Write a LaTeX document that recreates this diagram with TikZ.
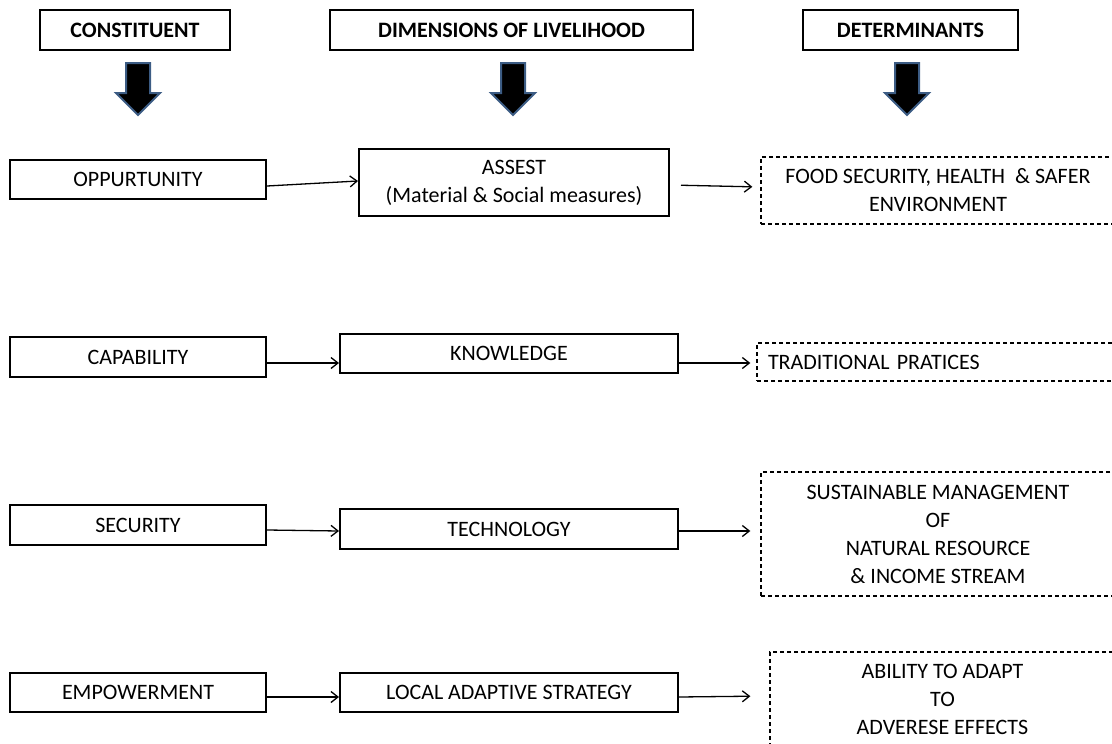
\documentclass[tikz,border=0pt]{standalone}
\usepackage{fontspec}
\setmainfont{Carlito}
\usetikzlibrary{arrows.meta}
\definecolor{arrowrim}{RGB}{60,92,132}

\begin{document}
\begin{tikzpicture}[x=1pt, y=-1pt, font=\fontsize{22}{28}\selectfont,
head_style/.style={draw=black, line width=2pt, font=\fontsize{22}{24}\selectfont\bfseries, minimum height=40pt},
box_style/.style={draw=black, line width=2pt, align=center, inner sep=0pt},
dash_style/.style={draw=black, line width=1.3pt, dash pattern=on 4pt off 3pt, align=center, inner sep=0pt},
edge_style/.style={draw=black, line width=1.3pt, -{Straight Barb[length=7pt,width=11pt]}},
block_style/.style={fill=black, draw=arrowrim, line width=2pt, line join=miter}]
\useasboundingbox (0,0) rectangle (1112,744);
\clip (0,0) rectangle (1112,744);

% headings
\node[head_style, minimum width=190pt] (conh) at (135,30) {CONSTITUENT};
\node[head_style, minimum width=363pt] (dimh) at (511.5,30) {DIMENSIONS OF LIVELIHOOD};
\node[head_style, minimum width=215pt] (deth) at (910.5,30) {DETERMINANTS};

\foreach \x in {138,513,907}
  \draw[block_style] (\x-12,63) -- (\x+12,63) -- (\x+12,93) -- (\x+22,93)
    -- (\x,115) -- (\x-22,93) -- (\x-12,93) -- cycle;

% constituents
\node[box_style, minimum width=256pt, minimum height=39pt] (opp) at (138,179.5) {OPPURTUNITY};
\node[box_style, minimum width=256pt, minimum height=40pt] (cap) at (138,357) {CAPABILITY};
\node[box_style, minimum width=256pt, minimum height=40pt] (sec) at (138,525) {SECURITY};
\node[box_style, minimum width=256pt, minimum height=39pt] (emp) at (138,692.5) {EMPOWERMENT};

% dimensions
\node[box_style, minimum width=310pt, minimum height=67pt] (asset) at (514,182.5) {ASSEST\\(Material \& Social measures)};
\node[box_style, minimum width=338pt, minimum height=39pt] (know) at (509,353.5) {KNOWLEDGE};
\node[box_style, minimum width=338pt, minimum height=40pt] (tech) at (509,529) {TECHNOLOGY};
\node[box_style, minimum width=338pt, minimum height=39pt] (local) at (509,692.5) {LOCAL ADAPTIVE STRATEGY};

% determinants
\node[dash_style, minimum width=354pt, minimum height=67pt] (food) at (938,190.5) {FOOD SECURITY, HEALTH\ \ \& SAFER\\ENVIRONMENT};
\node[dash_style, text width=336pt, inner xsep=11pt, align=left, minimum height=38pt] (trad) at (936,362) {TRADITIONAL PRATICES};
\node[dash_style, minimum width=354pt, minimum height=124pt] (sust) at (938,534) {SUSTAINABLE MANAGEMENT\\OF\\NATURAL RESOURCE\\\& INCOME STREAM};
\node[dash_style, minimum width=345pt, minimum height=94pt] (abil) at (942.5,699) {ABILITY TO ADAPT\\TO\\ADVERESE EFFECTS};

\draw[edge_style] ([yshift=-6.5pt]opp.east) -- ([yshift=1.5pt]asset.west);
\draw[edge_style, shorten <=11pt, shorten >=8pt] ([yshift=-2.5pt]asset.east) -- ([yshift=3.5pt]food.west);
\draw[edge_style] ([yshift=-6pt]cap.east) -- ([yshift=-9.5pt]know.west);
\draw[edge_style, shorten >=6pt] ([yshift=-9.5pt]know.east) -- ([yshift=-1pt]trad.west);
\draw[edge_style] ([yshift=-5pt]sec.east) -- ([yshift=-2pt]tech.west);
\draw[edge_style, shorten >=10pt] ([yshift=-2pt]tech.east) -- ([yshift=3pt]sust.west);
\draw[edge_style] ([yshift=-4.5pt]emp.east) -- ([yshift=-4.5pt]local.west);
\draw[edge_style, shorten >=19pt] ([yshift=-4.5pt]local.east) -- ([yshift=3pt]abil.west);
\end{tikzpicture}
\end{document}
